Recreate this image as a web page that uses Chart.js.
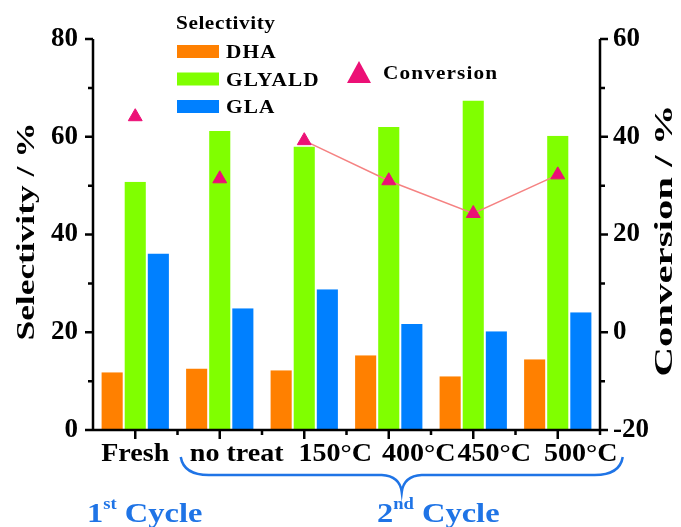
<!DOCTYPE html>
<html>
<head>
<meta charset="utf-8">
<script src="https://cdn.jsdelivr.net/npm/chart.js@4.4.1/dist/chart.umd.min.js"></script>
<style>
  html, body { margin: 0; padding: 0; background: #fff; }
  #wrap { width: 681px; height: 527px; }
</style>
</head>
<body>
<div id="wrap"><canvas id="myChart"></canvas></div>
<script>
const categories = ["Fresh", "no treat", "150°C", "400°C", "450°C", "500°C"];
const dha = [11.8, 12.6, 12.2, 15.3, 11.0, 14.5];
const glyald = [50.8, 61.2, 58.0, 62.0, 67.4, 60.2];
const gla = [36.1, 24.9, 28.8, 21.7, 20.2, 24.1];
const conversion = [44.1, 31.4, 39.2, 31.0, 24.3, 32.2];
const selectivityRange = [0, 80];
const conversionRange = [-20, 60];
// category labels sit a little right of their ticks
const labelShift = [0, 17, 31, 30, 21, 23];

const serif = '"Liberation Serif", "Times New Roman", serif';
const orange = "#ff8000";
const green = "#80ff00";
const blue = "#0080ff";
const pink = "#ec1076";
const lineColor = "#f58282";
const cycleBlue = "#1f74e6";

// text stretched a little along its direction
function drawText(ctx, str, x, y, size, color, opts = {}) {
  ctx.save();
  ctx.translate(x, y);
  if (opts.rotate) ctx.rotate(opts.rotate);
  ctx.scale(opts.sx || 1.14, 1);
  ctx.font = `bold ${size}px ${serif}`;
  ctx.fillStyle = color;
  ctx.textAlign = opts.align || "left";
  ctx.textBaseline = opts.baseline || "alphabetic";
  if (opts.spacing) ctx.letterSpacing = opts.spacing + "px";
  ctx.fillText(str, 0, 0);
  ctx.restore();
}

const decorations = {
  id: "decorations",
  afterDraw(chart) {
    const ctx = chart.ctx;
    const { x, y, y2 } = chart.scales;
    const area = chart.chartArea;

    // axes with major and minor ticks
    ctx.save();
    ctx.strokeStyle = "#000";
    ctx.lineWidth = 2.5;
    ctx.beginPath();
    ctx.moveTo(area.left, area.top);
    ctx.lineTo(area.left, area.bottom);
    ctx.lineTo(area.right, area.bottom);
    ctx.lineTo(area.right, area.top);
    for (let v = selectivityRange[0]; v <= selectivityRange[1]; v += 10) {
      const py = y.getPixelForValue(v);
      const len = v % 20 === 0 ? 8 : 5;
      ctx.moveTo(area.left - len, py);
      ctx.lineTo(area.left, py);
    }
    for (let v = conversionRange[0]; v <= conversionRange[1]; v += 10) {
      const py = y2.getPixelForValue(v);
      const len = v % 20 === 0 ? 8 : 5;
      ctx.moveTo(area.right, py);
      ctx.lineTo(area.right + len, py);
    }
    const step = x.getPixelForValue(1) - x.getPixelForValue(0);
    categories.forEach((c, i) => {
      const px = x.getPixelForValue(i);
      ctx.moveTo(px, area.bottom);
      ctx.lineTo(px, area.bottom + 9);
      ctx.moveTo(px + step / 2, area.bottom);
      ctx.lineTo(px + step / 2, area.bottom + 5);
    });
    ctx.stroke();
    ctx.restore();

    // category labels
    categories.forEach((c, i) => {
      drawText(ctx, c, x.getPixelForValue(i) + labelShift[i], 461, 26, "#000",
        { sx: 1.08, align: "center" });
    });

    // axis titles, both reading bottom to top
    const midY = (area.top + area.bottom) / 2;
    drawText(ctx, "Selectivity / %", 27, midY - 3, 26, "#000",
      { rotate: -Math.PI / 2, sx: 1.36, align: "center", baseline: "middle" });
    drawText(ctx, "Conversion / %", 665, midY + 6, 26, "#000",
      { rotate: -Math.PI / 2, sx: 1.57, align: "center", baseline: "middle" });

    // legend
    drawText(ctx, "Selectivity", 176, 29, 19, "#000", { sx: 1.12, spacing: 0.5 });
    [["DHA", orange], ["GLYALD", green], ["GLA", blue]].forEach(([name, col], i) => {
      const top = 45 + i * 27.5;
      ctx.fillStyle = col;
      ctx.fillRect(177, top, 42, 13);
      drawText(ctx, name, 226, top + 13, 19, "#000", { sx: 1.12, spacing: 1 });
    });
    ctx.fillStyle = pink;
    ctx.beginPath();
    ctx.moveTo(359, 61);
    ctx.lineTo(371, 83);
    ctx.lineTo(347, 83);
    ctx.closePath();
    ctx.fill();
    drawText(ctx, "Conversion", 383, 79, 19, "#000", { sx: 1.12, spacing: 1 });

    // brace under the second cycle labels
    const left = x.getPixelForValue(1) - 39;
    const right = x.getPixelForValue(5) + 65;
    const mid = (left + right) / 2;
    const by = 475;
    ctx.save();
    ctx.strokeStyle = cycleBlue;
    ctx.lineWidth = 2.5;
    ctx.beginPath();
    ctx.moveTo(left, 457);
    ctx.quadraticCurveTo(left + 3, by, left + 28, by);
    ctx.lineTo(mid - 20, by);
    ctx.quadraticCurveTo(mid - 2, by + 1, mid, by + 17);
    ctx.quadraticCurveTo(mid + 2, by + 1, mid + 20, by);
    ctx.lineTo(right - 28, by);
    ctx.quadraticCurveTo(right - 3, by, right, 457);
    ctx.stroke();
    ctx.restore();

    // cycle labels with superscripts
    const cycleLabel = (num, sup, x0) => {
      ctx.save();
      ctx.font = `bold 28px ${serif}`;
      const w1 = ctx.measureText(num).width * 1.16;
      ctx.font = `bold 16px ${serif}`;
      const w2 = ctx.measureText(sup).width * 1.16;
      ctx.restore();
      drawText(ctx, num, x0, 522, 28, cycleBlue, { sx: 1.16 });
      drawText(ctx, sup, x0 + w1, 509, 16, cycleBlue, { sx: 1.16 });
      drawText(ctx, " Cycle", x0 + w1 + w2, 522, 28, cycleBlue, { sx: 1.16 });
    };
    cycleLabel("1", "st", 87);
    cycleLabel("2", "nd", 377);
  }
};

const tickFont = { family: serif, size: 27, weight: "bold" };

new Chart(document.querySelector("#myChart"), {
  data: {
    labels: categories,
    datasets: [
      {
        type: "line",
        label: "Conversion",
        data: conversion,
        yAxisID: "y2",
        order: 0,
        borderColor: lineColor,
        borderWidth: 1.5,
        pointStyle: "triangle",
        pointRadius: 8,
        pointBackgroundColor: pink,
        pointBorderColor: pink,
        pointBorderWidth: 1,
        // the line only joins the heat-treated samples
        segment: {
          borderColor: (c) => (c.p0DataIndex < 2 ? "transparent" : lineColor),
        },
      },
      { type: "bar", label: "DHA", data: dha, backgroundColor: orange, yAxisID: "y", order: 1,
        borderColor: "#fff", borderWidth: { left: 1, right: 1 } },
      { type: "bar", label: "GLYALD", data: glyald, backgroundColor: green, yAxisID: "y", order: 1,
        borderColor: "#fff", borderWidth: { left: 1, right: 1 } },
      { type: "bar", label: "GLA", data: gla, backgroundColor: blue, yAxisID: "y", order: 1,
        borderColor: "#fff", borderWidth: { left: 1, right: 1 } },
    ],
  },
  options: {
    responsive: true,
    maintainAspectRatio: false,
    animation: false,
    layout: { padding: { top: 39, left: 0, right: 0, bottom: 0 }, autoPadding: false },
    datasets: { bar: { categoryPercentage: 0.82, barPercentage: 1 } },
    plugins: { legend: { display: false }, tooltip: { enabled: false } },
    scales: {
      x: {
        grid: { display: false, drawTicks: false },
        border: { display: false },
        ticks: { display: false },
        afterFit: (s) => { s.height = 97; },
      },
      y: {
        position: "left",
        min: selectivityRange[0],
        max: selectivityRange[1],
        grid: { display: false, drawTicks: false },
        border: { display: false },
        ticks: { stepSize: 20, font: tickFont, color: "#000", padding: 15 },
        afterFit: (s) => { s.width = 93; },
      },
      y2: {
        position: "right",
        min: conversionRange[0],
        max: conversionRange[1],
        grid: { display: false, drawTicks: false },
        border: { display: false },
        ticks: { stepSize: 20, font: tickFont, color: "#000", padding: 13 },
        afterFit: (s) => { s.width = 81; },
      },
    },
  },
  plugins: [decorations],
});
</script>
</body>
</html>
